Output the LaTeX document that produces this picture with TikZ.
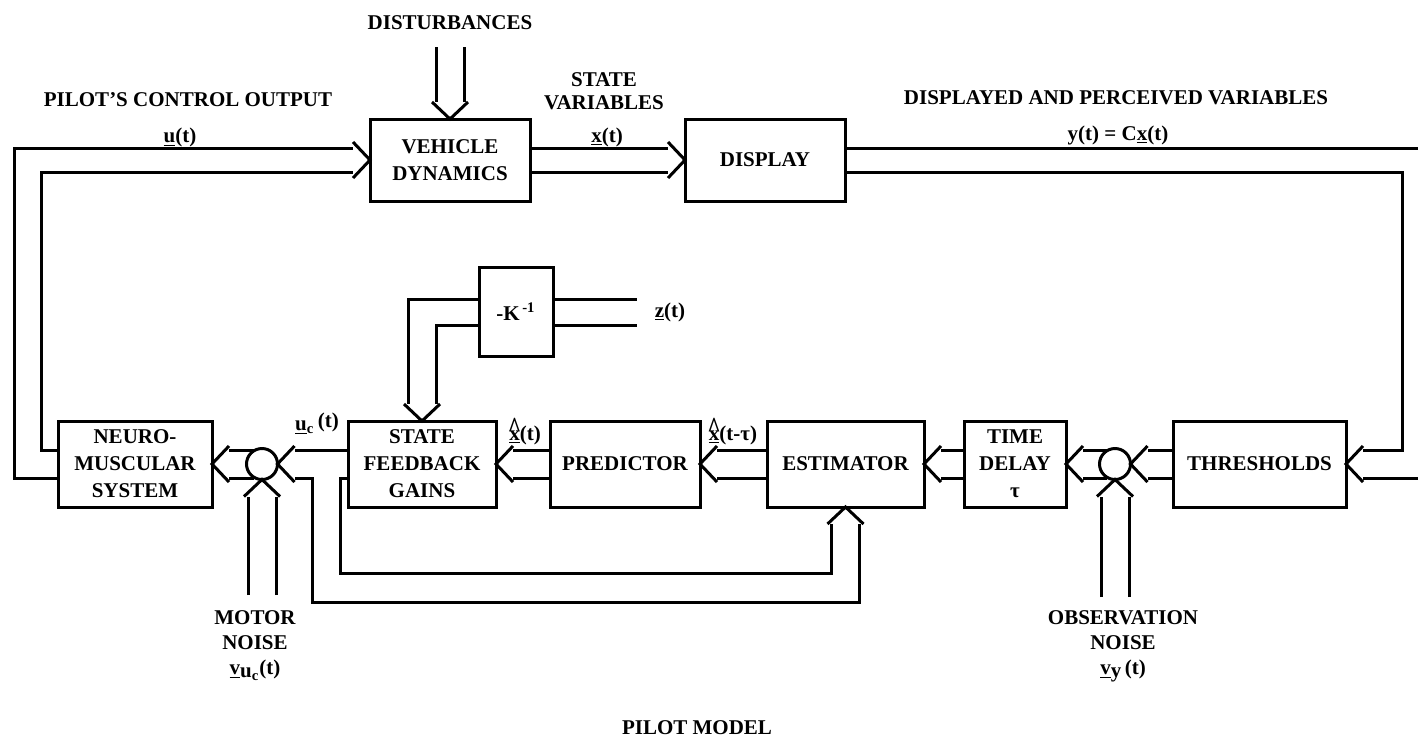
\documentclass[tikz,border=0pt]{standalone}
\usepackage{fontspec}
\usepackage{graphicx}
\setmainfont{Liberation Serif}
\usetikzlibrary{calc}
\newcommand{\lbl}{\fontsize{10.5}{13.5}\selectfont\bfseries}
\newcommand{\uvec}[1]{\underline{#1}}
\newcommand{\hatvec}[1]{\leavevmode\setbox0\hbox{\underline{#1}}\rlap{\makebox[\wd0][c]{\raisebox{0.25ex}{\scalebox{1.1}[1.4]{\textasciicircum}}}}\box0}
\begin{document}
\begin{tikzpicture}[x=0.5pt,y=-0.5pt,
  wire/.style={line width=1.5pt},
  box/.style={draw, line width=1.5pt, align=center, inner sep=0pt, outer sep=0pt, font=\lbl},
  sumc/.style={draw, circle, line width=1.5pt, minimum size=15.5pt, inner sep=0pt, outer sep=0pt},
  txt/.style={align=center, inner sep=0pt, font=\lbl},
  chev/.pic={\draw[line width=1.5pt] (-17,-18) -- (0,0) -- (-17,18);}]
\fill[white] (0,0) rectangle (1418,745);
\useasboundingbox (0,0) rectangle (1418,745);

% blocks
\node[box, minimum width=80pt, minimum height=41pt] (veh) at (450,160) {VEHICLE\\DYNAMICS};
\node[box, minimum width=80pt, minimum height=41pt] (disp) at (765,160) {DISPLAY};
\node[box, minimum width=37pt, minimum height=44.5pt] (kbox) at (516,312) {-K\textsuperscript{\,-1}};
\node[box, minimum width=77pt, minimum height=43pt] (neuro) at (135,464) {NEURO-\\MUSCULAR\\SYSTEM};
\node[box, minimum width=74pt, minimum height=43pt] (sfg) at (422,464) {STATE\\FEEDBACK\\GAINS};
\node[box, minimum width=75pt, minimum height=43pt] (pred) at (625,464) {PREDICTOR};
\node[box, minimum width=78.5pt, minimum height=43pt] (est) at (845.5,464) {ESTIMATOR};
\node[box, minimum width=51pt, minimum height=43pt] (td) at (1015,464) {TIME\\DELAY\\τ};
\node[box, minimum width=86.5pt, minimum height=43pt] (thr) at (1259.5,464) {THRESHOLDS};
\node[sumc] (sum1) at (262,464) {};
\node[sumc] (sum2) at (1115,464) {};

% labels
\node[txt] (distl) at (450,23) {DISTURBANCES};
\node[txt] (pcol) at (188,100) {PILOT'S CONTROL OUTPUT};
\node[txt] (ulab) at (180,137) {\uvec{u}(t)};
\node[txt, font=\fontsize{10.5}{11.5}\selectfont\bfseries] (svl) at (604,91) {STATE\\VARIABLES};
\node[txt] (xlab) at (607,137) {\uvec{x}(t)};
\node[txt] (dpl) at (1116,98) {DISPLAYED AND PERCEIVED VARIABLES};
\node[txt] (ylab) at (1118,137) {\uvec{y}(t) = C\uvec{x}(t)};
\node[txt] (zlab) at (670,312) {\uvec{z}(t)};
\node[txt, anchor=base] (uclab) at (317,430) {\uvec{u}\textsubscript{c}\,\raisebox{0.3ex}{(t)}};
\node[txt, anchor=base] (xh1) at (525,440) {\hatvec{x}(t)};
\node[txt, anchor=base] (xh2) at (733,440) {\hatvec{x}(t-τ)};
\node[txt, font=\fontsize{10.5}{12.5}\selectfont\bfseries] (motl) at (255,646) {MOTOR\\NOISE\\\uvec{v}\raisebox{-0.3ex}{u\textsubscript{c}}(t)};
\node[txt, font=\fontsize{10.5}{12.5}\selectfont\bfseries] (obsl) at (1123,646) {OBSERVATION\\NOISE\\\uvec{v}\raisebox{-0.3ex}{y}\,(t)};
\node[txt] (pml) at (697,728) {PILOT MODEL};

% left loop: neuromuscular -> vehicle
\draw[wire] ($(neuro.west)+(0,14)$) -- (14,478) -- (14,148) -- ($(veh.west)+(-17,-12)$);
\draw[wire] ($(neuro.west)+(0,-14)$) -- (41,450) -- (41,172) -- ($(veh.west)+(-17,12)$);
\pic at (veh.west) {chev};
% vehicle -> display
\draw[wire] ($(veh.east)+(0,-12)$) -- ($(disp.west)+(-17,-12)$);
\draw[wire] ($(veh.east)+(0,12)$) -- ($(disp.west)+(-17,12)$);
\pic at (disp.west) {chev};
% disturbances
\coordinate (dA) at (436,47);
\coordinate (dB) at (464,47);
\draw[wire] (dA) -- ($(veh.north)+(-14,-17)$);
\draw[wire] (dB) -- ($(veh.north)+(14,-17)$);
\pic[rotate=-90] at (veh.north) {chev};
% display -> thresholds
\coordinate (rOut) at (1418,148);
\coordinate (rIn) at (1418,478);
\draw[wire] ($(disp.east)+(0,-12)$) -- (rOut);
\draw[wire] ($(disp.east)+(0,12)$) -- (1402,172) -- (1402,450) -- ($(thr.east)+(17,-14)$);
\draw[wire] (rIn) -- ($(thr.east)+(17,14)$);
\pic[rotate=180] at (thr.east) {chev};
% thresholds -> sum2
\draw[wire] ($(thr.west)+(0,-14)$) -- ($(sum2.east)+(17,-14)$);
\draw[wire] ($(thr.west)+(0,14)$) -- ($(sum2.east)+(17,14)$);
\pic[rotate=180] at (sum2.east) {chev};
% sum2 -> time delay
\draw[wire] ($(sum2.center)+(-8,-14)$) -- ($(td.east)+(17,-14)$);
\draw[wire] ($(sum2.center)+(-8,14)$) -- ($(td.east)+(17,14)$);
\pic[rotate=180] at (td.east) {chev};
% time delay -> estimator
\draw[wire] ($(td.west)+(0,-14)$) -- ($(est.east)+(17,-14)$);
\draw[wire] ($(td.west)+(0,14)$) -- ($(est.east)+(17,14)$);
\pic[rotate=180] at (est.east) {chev};
% estimator -> predictor
\draw[wire] ($(est.west)+(0,-14)$) -- ($(pred.east)+(17,-14)$);
\draw[wire] ($(est.west)+(0,14)$) -- ($(pred.east)+(17,14)$);
\pic[rotate=180] at (pred.east) {chev};
% predictor -> state feedback gains
\draw[wire] ($(pred.west)+(0,-14)$) -- ($(sfg.east)+(17,-14)$);
\draw[wire] ($(pred.west)+(0,14)$) -- ($(sfg.east)+(17,14)$);
\pic[rotate=180] at (sfg.east) {chev};
% state feedback gains -> sum1 and loops to estimator
\draw[wire] ($(sfg.west)+(0,-14)$) -- ($(sum1.east)+(17,-14)$);
\draw[wire] ($(est.south)+(14,17)$) -- (859.5,602) -- (312,602) -- (312,478) -- ($(sum1.east)+(17,14)$);
\draw[wire] ($(sfg.west)+(0,14)$) -- (340,478) -- (340,573) -- (831.5,573) -- ($(est.south)+(-14,17)$);
\pic[rotate=90] at (est.south) {chev};
\pic[rotate=180] at (sum1.east) {chev};
% sum1 -> neuromuscular
\draw[wire] ($(sum1.center)+(-8,-14)$) -- ($(neuro.east)+(17,-14)$);
\draw[wire] ($(sum1.center)+(-8,14)$) -- ($(neuro.east)+(17,14)$);
\pic[rotate=180] at (neuro.east) {chev};
% motor noise
\coordinate (mA) at (248,595);
\coordinate (mB) at (276,595);
\draw[wire] (mA) -- ($(sum1.south)+(-14,17)$);
\draw[wire] (mB) -- ($(sum1.south)+(14,17)$);
\pic[rotate=90] at (sum1.south) {chev};
% observation noise
\coordinate (oA) at (1101,597);
\coordinate (oB) at (1129,597);
\draw[wire] (oA) -- ($(sum2.south)+(-14,17)$);
\draw[wire] (oB) -- ($(sum2.south)+(14,17)$);
\pic[rotate=90] at (sum2.south) {chev};
% -K^{-1} -> state feedback gains
\draw[wire] ($(kbox.west)+(0,-13)$) -- (408,299) -- ($(sfg.north)+(-14,-17)$);
\draw[wire] ($(kbox.west)+(0,13)$) -- (436,325) -- ($(sfg.north)+(14,-17)$);
\pic[rotate=-90] at (sfg.north) {chev};
\coordinate (zA) at (637,299);
\coordinate (zB) at (637,325);
\draw[wire] ($(kbox.east)+(0,-13)$) -- (zA);
\draw[wire] ($(kbox.east)+(0,13)$) -- (zB);
\end{tikzpicture}
\end{document}
